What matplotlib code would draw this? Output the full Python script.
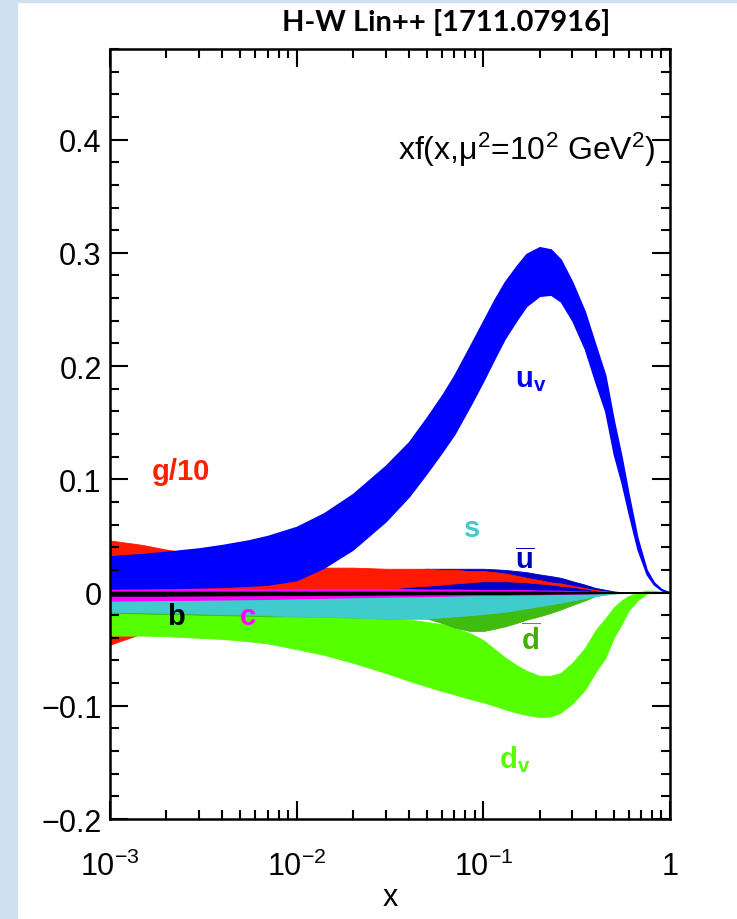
"""
Parton distribution bands at mu^2 = 100 GeV^2 (redrawn from H-W Lin++ 1711.07916).
"""

import numpy as np
import matplotlib
matplotlib.use("Agg")
import matplotlib.pyplot as plt
from matplotlib.patches import Rectangle
from matplotlib.ticker import FixedLocator, MultipleLocator, NullFormatter

plt.rcParams['font.family'] = ['Liberation Sans', 'DejaVu Sans']
plt.rcParams['mathtext.fontset'] = 'custom'
plt.rcParams['mathtext.rm'] = 'Liberation Sans'
plt.rcParams['mathtext.it'] = 'Liberation Sans:italic'
plt.rcParams['mathtext.bf'] = 'Liberation Sans:bold'

x_grid = [0.001, 0.0015, 0.002, 0.003, 0.004,
          0.0055, 0.007, 0.01, 0.014, 0.02,
          0.03, 0.04, 0.05, 0.06, 0.07,
          0.085, 0.1, 0.115, 0.13, 0.15,
          0.17, 0.2, 0.23, 0.26, 0.3,
          0.35, 0.4, 0.45, 0.5, 0.55,
          0.6, 0.67, 0.75, 0.82, 0.9,
          1.0]

# band edges (lower, upper) for each flavour
uv_hi = [0.032, 0.034, 0.036, 0.039, 0.042,
         0.046, 0.050, 0.058, 0.070, 0.087,
         0.112, 0.133, 0.155, 0.174, 0.192,
         0.218, 0.240, 0.259, 0.274, 0.288,
         0.299, 0.305, 0.303, 0.294, 0.274,
         0.248, 0.218, 0.192, 0.152, 0.120,
         0.087, 0.048, 0.020, 0.009, 0.003,
         0.0]
uv_lo = [0.0035, 0.0038, 0.004, 0.0045, 0.005,
         0.006, 0.007, 0.011, 0.022, 0.038,
         0.063, 0.085, 0.106, 0.124, 0.140,
         0.165, 0.187, 0.207, 0.224, 0.240,
         0.253, 0.262, 0.263, 0.257, 0.240,
         0.215, 0.185, 0.160, 0.122, 0.097,
         0.070, 0.038, 0.016, 0.007, 0.002,
         0.0]

ubar_hi = [0.020, 0.020, 0.020, 0.020, 0.020,
           0.020, 0.020, 0.020, 0.020, 0.020,
           0.020, 0.020, 0.021, 0.021, 0.021,
           0.021, 0.021, 0.0205, 0.020, 0.019,
           0.018, 0.016, 0.0145, 0.013, 0.010,
           0.007, 0.004, 0.0025, 0.001, 0.0003,
           0.0, 0.0, 0.0, 0.0, 0.0,
           0.0]
ubar_lo = [0.0, 0.0005, 0.001, 0.001, 0.001,
           0.001, 0.001, 0.001, 0.0015, 0.002,
           0.002, 0.002, 0.002, 0.002, 0.002,
           0.002, 0.002, 0.002, 0.002, 0.002,
           0.002, 0.002, 0.0018, 0.0015, 0.001,
           0.0008, 0.0005, 0.0003, 0.0, 0.0,
           0.0, 0.0, 0.0, 0.0, 0.0,
           0.0]

g10_hi = [0.046, 0.042, 0.038, 0.033, 0.030,
          0.027, 0.025, 0.023, 0.022, 0.022,
          0.021, 0.021, 0.021, 0.020, 0.020,
          0.019, 0.019, 0.018, 0.017, 0.015,
          0.013, 0.011, 0.009, 0.008, 0.006,
          0.004, 0.002, 0.001, 0.0003, 0.0,
          0.0, 0.0, 0.0, 0.0, 0.0,
          0.0]
g10_lo = [-0.046, -0.036, -0.030, -0.021, -0.015,
          -0.009, -0.005, 0.0, 0.001, 0.002,
          0.003, 0.005, 0.006, 0.007, 0.008,
          0.009, 0.010, 0.010, 0.010, 0.0095,
          0.009, 0.008, 0.007, 0.006, 0.005,
          0.0035, 0.002, 0.001, 0.0002, 0.0,
          0.0, 0.0, 0.0, 0.0, 0.0,
          0.0]

dv_hi = [-0.0175, -0.0185, -0.019, -0.0195, -0.020,
         -0.0205, -0.021, -0.021, -0.0215, -0.022,
         -0.023, -0.024, -0.026, -0.028, -0.031,
         -0.036, -0.042, -0.050, -0.057, -0.064,
         -0.069, -0.0735, -0.0735, -0.071, -0.062,
         -0.049, -0.033, -0.023, -0.013, -0.007,
         -0.003, 0.0, 0.0018, 0.0015, 0.0007,
         0.0]
dv_lo = [-0.038, -0.038, -0.0385, -0.040, -0.041,
         -0.043, -0.045, -0.050, -0.055, -0.062,
         -0.071, -0.078, -0.083, -0.087, -0.090,
         -0.094, -0.097, -0.100, -0.103, -0.106,
         -0.108, -0.110, -0.1095, -0.106, -0.098,
         -0.086, -0.070, -0.058, -0.040, -0.028,
         -0.016, -0.007, -0.001, 0.0, 0.0,
         0.0]

s_hi = [-0.007, -0.0068, -0.0065, -0.0062, -0.006,
        -0.0057, -0.0055, -0.005, -0.0045, -0.004,
        -0.0035, -0.0032, -0.003, -0.0028, -0.0025,
        -0.0022, -0.002, -0.002, -0.002, -0.0018,
        -0.0015, -0.0015, -0.0012, -0.001, -0.001,
        -0.0007, -0.0005, -0.0002, 0.0, 0.0,
        0.0, 0.0, 0.0, 0.0, 0.0,
        0.0]
s_lo = [-0.017, -0.0175, -0.018, -0.0185, -0.019,
        -0.0195, -0.020, -0.021, -0.0215, -0.022,
        -0.023, -0.023, -0.023, -0.022, -0.021,
        -0.020, -0.019, -0.018, -0.017, -0.0155,
        -0.014, -0.012, -0.0105, -0.009, -0.007,
        -0.005, -0.003, -0.002, -0.001, -0.0005,
        0.0, 0.0, 0.0, 0.0, 0.0,
        0.0]

dbar_hi = s_hi
dbar_lo = [-0.018, -0.0185, -0.019, -0.0195, -0.020,
           -0.0205, -0.021, -0.021, -0.0215, -0.022,
           -0.023, -0.023, -0.023, -0.027, -0.031,
           -0.034, -0.034, -0.032, -0.030, -0.027,
           -0.024, -0.021, -0.018, -0.015, -0.011,
           -0.007, -0.003, -0.0015, -0.0005, 0.0,
           0.0, 0.0, 0.0, 0.0, 0.0,
           0.0]

c_lo = s_hi
c_hi = [0.003, 0.003, 0.003, 0.003, 0.003,
        0.003, 0.003, 0.003, 0.003, 0.003,
        0.003, 0.0028, 0.0025, 0.0025, 0.0025,
        0.0022, 0.002, 0.002, 0.002, 0.002,
        0.002, 0.0015, 0.0015, 0.0015, 0.001,
        0.0008, 0.0005, 0.0003, 0.0, 0.0,
        0.0, 0.0, 0.0, 0.0, 0.0,
        0.0]

b_hi = [0.0005, 0.0005, 0.0005, 0.0005, 0.0005,
        0.0005, 0.0005, 0.0005, 0.0005, 0.0005,
        0.0005, 0.0005, 0.0005, 0.0005, 0.0005,
        0.0005, 0.0005, 0.0005, 0.0005, 0.0005,
        0.0005, 0.0005, 0.0004, 0.0004, 0.0003,
        0.0003, 0.0002, 0.0001, 0.0, 0.0,
        0.0, 0.0, 0.0, 0.0, 0.0,
        0.0]
b_lo = [-0.0025, -0.0025, -0.0025, -0.0023, -0.0022,
        -0.0021, -0.002, -0.002, -0.0019, -0.0018,
        -0.0015, -0.0014, -0.0013, -0.0012, -0.0012,
        -0.0011, -0.001, -0.001, -0.001, -0.0009,
        -0.0008, -0.0008, -0.0007, -0.0006, -0.0005,
        -0.0004, -0.0003, -0.0002, 0.0, 0.0,
        0.0, 0.0, 0.0, 0.0, 0.0,
        0.0]

x_ticks = [1e-3, 1e-2, 1e-1, 1.0]
x_ticklabels = [r'$10^{-3}$', r'$10^{-2}$', r'$10^{-1}$', '1']
y_ticks = [-0.2, -0.1, 0.0, 0.1, 0.2, 0.3, 0.4]
y_ticklabels = ['\u22120.2', '\u22120.1', '0', '0.1', '0.2', '0.3', '0.4']

# back to front
bands = [
    (ubar_lo, ubar_hi, '#0000c8', 0.6),
    (g10_lo, g10_hi, '#ff1a00', 0.6),
    (dv_lo, dv_hi, '#55ff00', 0.6),
    (dbar_lo, dbar_hi, '#40bb10', 0.6),
    (s_lo, s_hi, '#40cccc', 0.6),
    (c_lo, c_hi, '#ff00ff', 1.0),
    (b_lo, b_hi, '#000000', 1.2),
    (uv_lo, uv_hi, '#0000ff', 1.0),
]

labels = [
    # text, x, y, colour
    (r'g/10', 1.68e-3, 0.100, '#ff2000'),
    (r'$\mathbf{u}_\mathbf{v}$', 0.147, 0.182, '#0000ff'),
    (r's', 0.079, 0.050, '#40cccc'),
    (r'$\overline{\mathbf{u}}$', 0.147, 0.021, '#0000c0'),
    (r'b', 2.02e-3, -0.028, '#000000'),
    (r'c', 4.96e-3, -0.028, '#ff00ff'),
    (r'$\overline{\mathbf{d}}$', 0.16, -0.050, '#40b000'),
    (r'$\mathbf{d}_\mathbf{v}$', 0.122, -0.154, '#55ff00'),
]


def main():
    fig = plt.figure(figsize=(7.37, 9.2), dpi=100)
    fig.patches.append(Rectangle((0, 0), 17 / 737, 1, transform=fig.transFigure,
                                 color='#cfe0f1', zorder=0))
    fig.patches.append(Rectangle((0, 1 - 3 / 920), 1, 3 / 920, transform=fig.transFigure,
                                 color='#cfe0f1', zorder=0))

    ax = fig.add_axes([110 / 737, 100 / 920, 560 / 737, 770 / 920])
    ax.set_xscale('log')

    for lo, hi, col, lw in bands:
        ax.fill_between(x_grid, lo, hi, facecolor=col, edgecolor=col, linewidth=lw)

    for txt, x, y, col in labels:
        ax.text(x, y, txt, color=col, fontsize=21, fontweight='bold',
                ha='left', va='baseline')

    ax.text(0.975, 0.857, 'xf(x,\u03bc$^2$=10$^2$ GeV$^2$)', transform=ax.transAxes,
            fontsize=23, ha='right', va='baseline')

    ax.set_xlim(1e-3, 1.0)
    ax.set_ylim(-0.2, 0.48)

    ax.xaxis.set_major_locator(FixedLocator(x_ticks))
    ax.set_xticklabels(x_ticklabels)
    minors = [m * 10.0 ** e for e in (-3, -2, -1) for m in range(2, 10)]
    ax.xaxis.set_minor_locator(FixedLocator(minors))
    ax.xaxis.set_minor_formatter(NullFormatter())

    ax.set_yticks(y_ticks)
    ax.set_yticklabels(y_ticklabels)
    ax.yaxis.set_minor_locator(MultipleLocator(0.02))

    ax.tick_params(which='both', direction='in', top=True, right=True, width=1.5,
                   labelsize=22, colors='black')
    ax.tick_params(which='major', length=13)
    ax.tick_params(which='minor', length=6.5)
    ax.tick_params(axis='x', which='major', pad=23)
    ax.tick_params(axis='y', which='major', pad=6)
    for sp in ax.spines.values():
        sp.set_linewidth(1.8)

    ax.set_xlabel('x', fontsize=22, labelpad=0)

    fig.text(446 / 737, 1 - 31 / 920, 'H-W Lin++ [1711.07916]', family=['Lato', 'DejaVu Sans'],
             fontweight='bold', fontsize=21, ha='center', va='baseline')

    fig.savefig('out.png', dpi=100)


if __name__ == "__main__":
    main()
